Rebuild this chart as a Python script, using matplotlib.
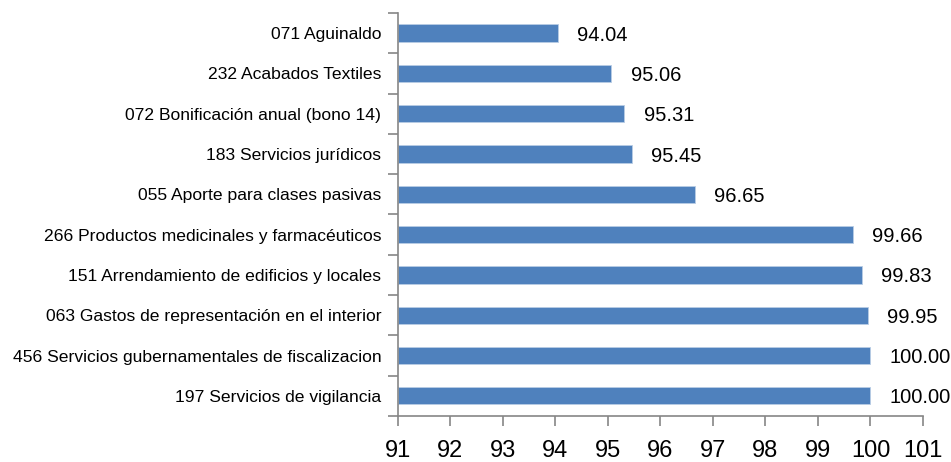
import numpy as np
import matplotlib.pyplot as plt
from matplotlib.ticker import FixedLocator

categorias = [
    "071 Aguinaldo",
    "232 Acabados Textiles",
    "072 Bonificación anual (bono 14)",
    "183 Servicios jurídicos",
    "055 Aporte para clases pasivas",
    "266 Productos medicinales y farmacéuticos",
    "151 Arrendamiento de edificios y locales",
    "063 Gastos de representación en el interior",
    "456 Servicios gubernamentales de fiscalizacion",
    "197 Servicios de vigilancia",
]
valores = [94.04, 95.06, 95.31, 95.45, 96.65, 99.66, 99.83, 99.95, 100.00, 100.00]
x_ticks = list(range(91, 102))

plt.rcParams['font.family'] = ['Liberation Sans', 'DejaVu Sans']

fig = plt.figure(figsize=(9.51, 4.62), dpi=100)
ax = fig.add_axes([0.4185, 0.0996, 0.552, 0.8724])

y = np.arange(len(categorias))[::-1]
ax.barh(y, [v - 91 for v in valores], left=91, height=0.43,
        color='#4F81BD', edgecolor='#B9CDE5', linewidth=0.6)

# etiquetas de valor
for yi, v in zip(y, valores):
    ax.text(v + 0.37, yi - 0.05, f"{v:.2f}", va='center', ha='left', fontsize=14.5)

ax.set_xlim(91, 101)
ax.set_ylim(-0.5, len(categorias) - 0.5)
ax.set_xticks(x_ticks)
ax.set_xticklabels([str(t) for t in x_ticks], fontsize=17)
ax.set_yticks(y)
ax.set_yticklabels(categorias, fontsize=12.6)
ax.yaxis.set_minor_locator(FixedLocator(np.arange(-0.5, len(categorias), 1.0)))
ax.tick_params(axis='y', which='major', length=0, pad=12)
ax.tick_params(axis='y', which='minor', length=7, color='#868686', width=1.2)
ax.tick_params(axis='x', length=7, color='#868686', width=1.2, pad=10)

for s in ['top', 'right']:
    ax.spines[s].set_visible(False)
for s in ['left', 'bottom']:
    ax.spines[s].set_color('#868686')
    ax.spines[s].set_linewidth(1.2)

fig.savefig('out.png', dpi=100)
